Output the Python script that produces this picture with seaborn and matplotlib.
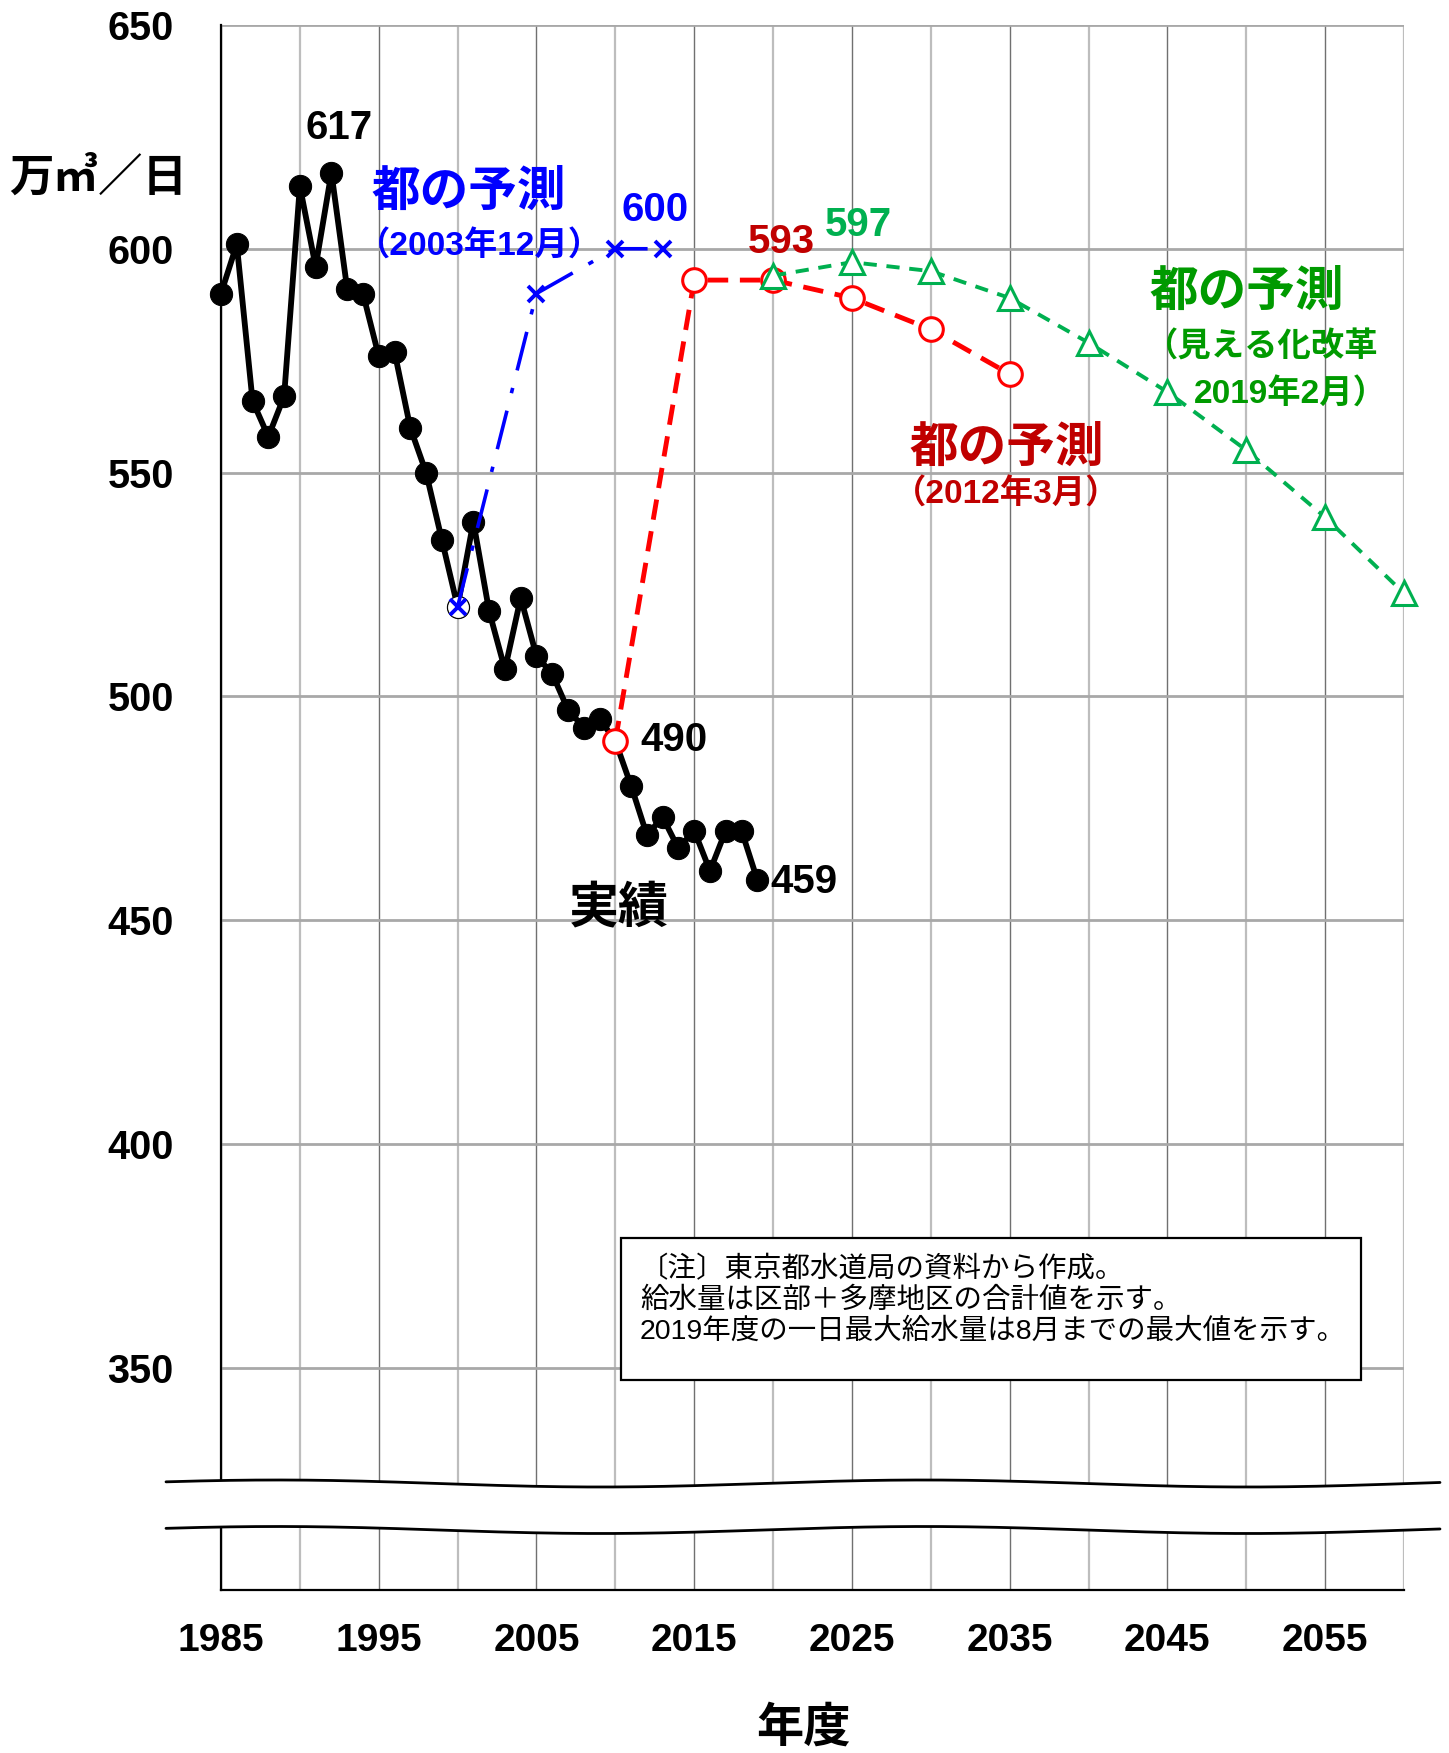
import numpy as np
import pandas as pd
import matplotlib
matplotlib.use('Agg')
import matplotlib.pyplot as plt
from matplotlib.ticker import FixedLocator
import seaborn as sns

# 実績 (一日最大給水量, 万m3/日)
actual_years = list(range(1985, 2020))
actual_vals = [590, 601, 566, 558, 567, 614, 596, 617, 591, 590,
               576, 577, 560, 550, 535, 520, 539, 519, 506, 522,
               509, 505, 497, 493, 495, 490, 480, 469, 473, 466,
               470, 461, 470, 470, 459]

# 都の予測 (2003年12月)
blue_years = [2000, 2005, 2010, 2013]
blue_vals = [520, 590, 600, 600]

# 都の予測 (2012年3月)
red_years = [2010, 2015, 2020, 2025, 2030, 2035]
red_vals = [490, 593, 593, 589, 582, 572]

# 都の予測 (見える化改革 2019年2月)
green_years = [2020, 2025, 2030, 2035, 2040, 2045, 2050, 2055, 2060]
green_vals = [594, 597, 595, 589, 579, 568, 555, 540, 523]

y_ticks = [350, 400, 450, 500, 550, 600, 650]
x_major = [1985, 1995, 2005, 2015, 2025, 2035, 2045, 2055]
x_minor = [1990, 2000, 2010, 2020, 2030, 2040, 2050, 2060]

sns.set_style('white')
plt.rcParams['font.family'] = ['Liberation Sans', 'Noto Sans CJK JP', 'DejaVu Sans']
plt.rcParams['text.color'] = 'black'

W, H = 1449, 1753
fig = plt.figure(figsize=(W / 100, H / 100), dpi=100)
ax = fig.add_axes([221 / W, 1 - 1590 / H, 1183 / W, 1565 / H])

BLUE = '#0000FF'
RED = '#FF0000'
DRED = '#C00000'
GREEN = '#00B050'
DGREEN = '#009A00'

sns.lineplot(x=actual_years, y=actual_vals, ax=ax, color='black', linewidth=4.2,
             marker='o', markersize=16, markeredgecolor='black',
             markerfacecolor='black', zorder=3, clip_on=False)

# white spot under the first blue cross
ax.plot(blue_years[:1], blue_vals[:1], 'o', color='white', markersize=14, zorder=3.5)
sns.lineplot(x=blue_years, y=blue_vals, ax=ax, color=BLUE, linewidth=2.6,
             linestyle=(0, (11, 5, 1.5, 5)), marker='x', markersize=11,
             markeredgecolor=BLUE, markeredgewidth=2.8, zorder=4)

sns.lineplot(x=red_years, y=red_vals, ax=ax, color=RED, linewidth=3.5,
             linestyle=(0, (4.2, 2.4)), marker='o', markersize=17,
             markeredgecolor=RED, markerfacecolor='white',
             markeredgewidth=2.2, zorder=5)

sns.lineplot(x=green_years, y=green_vals, ax=ax, color=GREEN, linewidth=2.8,
             linestyle=(0, (3.4, 2.5)), marker='^', markersize=17,
             markeredgecolor=GREEN, markerfacecolor='white',
             markeredgewidth=2.2, zorder=6, clip_on=False)

ax.set_xlim(1985, 2060)
ax.set_ylim(300.3, 650)
ax.yaxis.set_major_locator(FixedLocator(y_ticks))
ax.xaxis.set_major_locator(FixedLocator(x_major))
ax.xaxis.set_minor_locator(FixedLocator(x_minor))
ax.set_xticklabels([str(v) for v in x_major])
ax.set_yticklabels([str(v) for v in y_ticks])

ax.grid(axis='y', color='#A8A8A8', linewidth=2)
ax.grid(axis='x', which='major', color='#707070', linewidth=1)
ax.grid(axis='x', which='minor', color='#BDBDBD', linewidth=1.6)
ax.set_axisbelow(True)

ax.tick_params(axis='y', direction='in', length=10, width=1.5, color='#808080',
               pad=34, labelsize=28.5, labelcolor='black')
ax.tick_params(axis='x', which='both', length=0, pad=24, labelsize=28,
               labelcolor='black')
for lab in ax.get_xticklabels() + ax.get_yticklabels():
    lab.set_fontweight('bold')

for side in ['top', 'right']:
    ax.spines[side].set_visible(False)
ax.spines['left'].set_color('black')
ax.spines['left'].set_linewidth(1.6)
ax.spines['bottom'].set_color('black')
ax.spines['bottom'].set_linewidth(1.6)
ax.set_xlabel('')
ax.set_ylabel('')

# axis break (wavy band)
xs = np.linspace(166, 1440, 300)
wave = 3.5 * np.cos(2 * np.pi * (xs - 277) / 647)
y_up = 1483.5 - wave
y_lo = 1530 - wave
fx = xs / W
ax.fill_between(fx, 1 - y_lo / H, 1 - y_up / H, color='white', transform=fig.transFigure,
                clip_on=False, zorder=20, linewidth=0)
ax.plot(fx, 1 - y_up / H, color='black', linewidth=2, transform=fig.transFigure,
        clip_on=False, zorder=21)
ax.plot(fx, 1 - y_lo / H, color='black', linewidth=2, transform=fig.transFigure,
        clip_on=False, zorder=21)

# value labels
NUM = 29
ax.text(1992.5, 627, '617', ha='center', va='center', fontsize=NUM, fontweight='bold')
ax.text(2012.5, 608.6, '600', ha='center', va='center', fontsize=NUM,
        fontweight='bold', color=BLUE)
ax.text(2020.5, 601.4, '593', ha='center', va='center', fontsize=NUM,
        fontweight='bold', color=DRED)
ax.text(2025.4, 605.2, '597', ha='center', va='center', fontsize=NUM,
        fontweight='bold', color=GREEN)
ax.text(2011.6, 490.2, '490', ha='left', va='center', fontsize=NUM, fontweight='bold')
ax.text(2019.8, 458.5, '459', ha='left', va='center', fontsize=NUM, fontweight='bold')

# series labels
BIG = 35
SUB = 24
ax.text(2010.2, 452.3, '実績', ha='center', va='center', fontsize=36, fontweight='bold')
ax.text(2000.7, 612.5, '都の予測', ha='center', va='center', fontsize=BIG,
        fontweight='bold', color=BLUE)
ax.text(2001.4, 600.4, '（2003年12月）', ha='center', va='center', fontsize=SUB,
        fontweight='bold', color=BLUE)
ax.text(2034.8, 555.3, '都の予測', ha='center', va='center', fontsize=BIG,
        fontweight='bold', color=DRED)
ax.text(2034.8, 545, '（2012年3月）', ha='center', va='center', fontsize=SUB,
        fontweight='bold', color=DRED)
ax.text(2050.0, 590.0, '都の予測', ha='center', va='center', fontsize=BIG,
        fontweight='bold', color=DGREEN)
ax.text(2043.6, 578, '（見える化改革', ha='left', va='center', fontsize=SUB,
        fontweight='bold', color=DGREEN)
ax.text(2058.9, 567.5, '2019年2月）', ha='right', va='center', fontsize=SUB,
        fontweight='bold', color=DGREEN)

# note box
note = ('〔注〕東京都水道局の資料から作成。\n'
        '給水量は区部＋多摩地区の合計値を示す。\n'
        '2019年度の一日最大給水量は8月までの最大値を示す。')
ax.add_patch(plt.Rectangle((621 / W, 1 - 1380 / H), 740 / W, 142 / H,
                           transform=fig.transFigure, facecolor='white',
                           edgecolor='black', linewidth=1.6, zorder=8))
fig.text(640 / W, 1 - 1256 / H, note, ha='left', va='top', fontsize=20.5,
         family=['Liberation Sans', 'Noto Sans CJK JP'], linespacing=1.2, zorder=9)

fig.text(98 / W, 1 - 178 / H, '万㎥／日', ha='center', va='center', fontsize=32,
         fontweight='bold')
fig.text(804 / W, 1 - 1729 / H, '年度', ha='center', va='center', fontsize=34,
         fontweight='bold')

fig.savefig('out.png', dpi=100)
